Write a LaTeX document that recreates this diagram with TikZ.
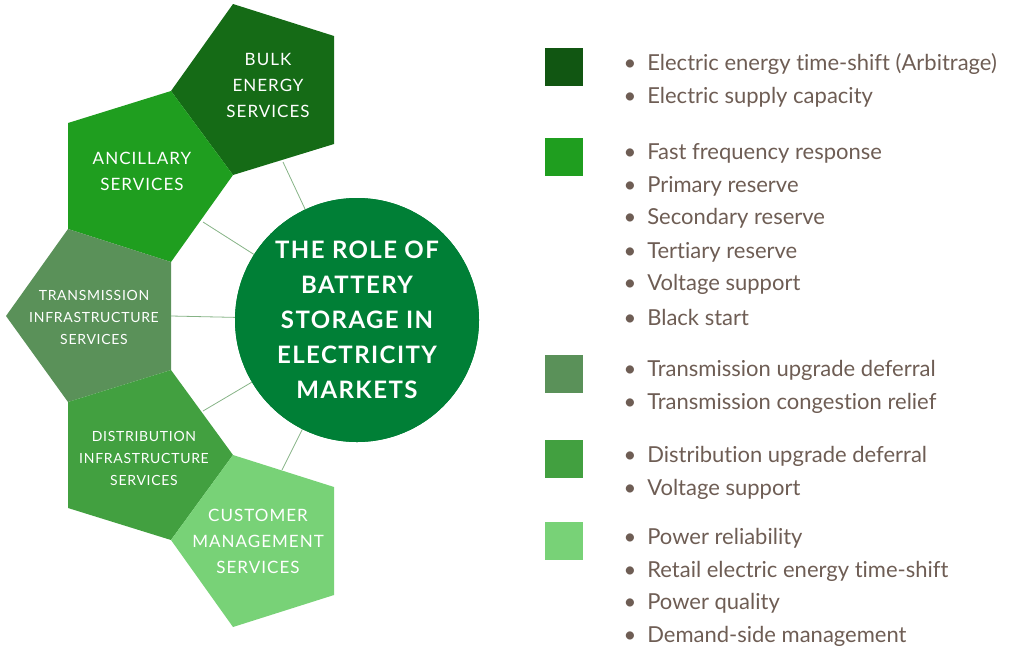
\documentclass[tikz,border=0pt]{standalone}
\usepackage{fontspec}
\setmainfont{Lato}[Ligatures={NoCommon}]
\usepackage{xcolor}
\usetikzlibrary{calc}
\definecolor{bulkgreen}{HTML}{156B16}
\definecolor{ancgreen}{HTML}{1F9E1F}
\definecolor{transgreen}{HTML}{5A9159}
\definecolor{distgreen}{HTML}{42A040}
\definecolor{custgreen}{HTML}{78D277}
\definecolor{rolegreen}{HTML}{007F36}
\definecolor{legtext}{HTML}{6E5D54}
\definecolor{linkgreen}{HTML}{86B386}
\tikzset{
  pentlabel/.style={text=white,align=center,font=\fontsize{17}{26}\selectfont\addfontfeatures{LetterSpace=6}},
  smalllabel/.style={text=white,align=center,font=\fontsize{14}{22}\selectfont\addfontfeatures{LetterSpace=5}},
  link/.style={draw=linkgreen,line width=0.8pt},
  legitem/.style={anchor=west,text=legtext,font=\fontsize{22}{24}\selectfont}
}
\def\legbox(#1)[#2]{\fill[#2] ($(#1)+(-19,-19)$) rectangle ($(#1)+(19,19)$)}
\begin{document}
\begin{tikzpicture}[x=1pt,y=-1pt]
  \useasboundingbox (0,0) rectangle (1024,651);
  % connectors behind everything
  \coordinate (c1) at (283,162); \coordinate (c2) at (203,222);
  \coordinate (c3) at (171,316); \coordinate (c4) at (203,411);
  \coordinate (c5) at (282,470);
  \node[circle,fill=rolegreen,minimum size=244pt,inner sep=0pt] (role) at (357,320) {};
  \foreach \c in {c1,c2,c3,c4,c5}
    \draw[link] (\c) -- (role.center);
  \fill[rolegreen] (role.center) circle (122);
  % pentagons
  \fill[bulkgreen] (233,4)--(334,36)--(334,144)--(233,175)--(171,91)--cycle;
  \fill[ancgreen] (171,91)--(233,175)--(171,262)--(68,229)--(68,123)--cycle;
  \fill[transgreen] (68,229)--(171,262)--(171,370)--(68,402)--(6,316)--cycle;
  \fill[distgreen] (171,370)--(233,455)--(171,540)--(68,508)--(68,402)--cycle;
  \fill[custgreen] (233,455)--(334,487)--(334,595)--(233,627)--(171,540)--cycle;
  \node[pentlabel] (bulk) at (268,85) {BULK\\ENERGY\\SERVICES};
  \node[pentlabel] (anc) at (142,171) {ANCILLARY\\SERVICES};
  \node[smalllabel] (trans) at (94,317) {TRANSMISSION\\INFRASTRUCTURE\\SERVICES};
  \node[smalllabel] (dist) at (144,458) {DISTRIBUTION\\INFRASTRUCTURE\\SERVICES};
  \node[pentlabel] (cust) at (258,541) {CUSTOMER\\MANAGEMENT\\SERVICES};
  \node[text=white,align=center,font=\fontsize{24}{35}\selectfont\bfseries\addfontfeatures{LetterSpace=6}] (title) at (role.center)
    {THE ROLE OF\\BATTERY\\STORAGE IN\\ELECTRICITY\\MARKETS};
  % legend
  \legbox(564,67)[bulkgreen!80!black];
  \legbox(564,157)[ancgreen];
  \legbox(564,374)[transgreen];
  \legbox(564,459)[distgreen];
  \legbox(564,541)[custgreen];
  \foreach \y/\t in {64/Electric energy time-shift (Arbitrage),97/Electric supply capacity,
      153/Fast frequency response,186/Primary reserve,218/Secondary reserve,252/Tertiary reserve,
      284/Voltage support,317/Black start,370/Transmission upgrade deferral,
      403/Transmission congestion relief,456/Distribution upgrade deferral,489/Voltage support,
      538/Power reliability,571/Retail electric energy time-shift,603/Power quality,
      636/Demand-side management}
    \node[legitem] at (620,\y) {\textbullet\hspace{11pt}\t};
\end{tikzpicture}
\end{document}
